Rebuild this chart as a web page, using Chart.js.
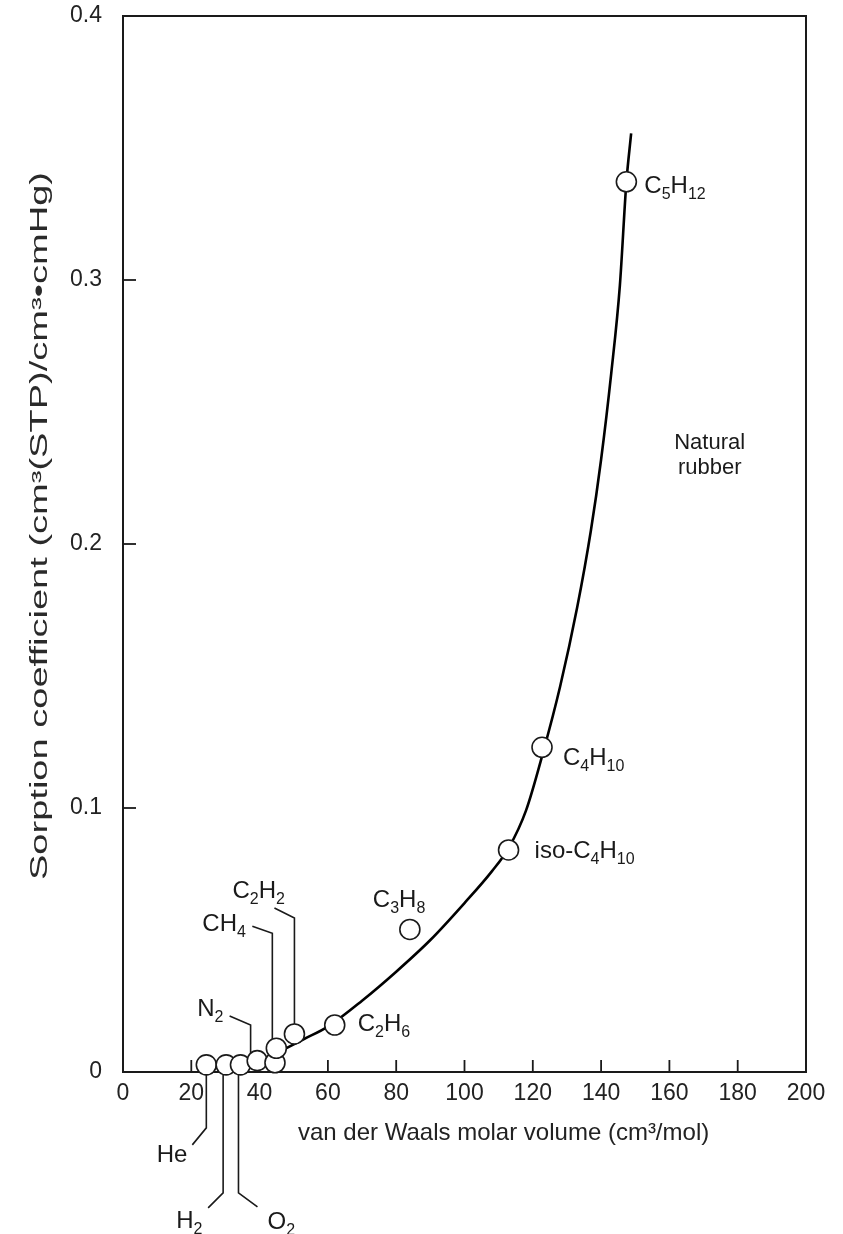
<!DOCTYPE html>
<html><head><meta charset="utf-8">
<script src="https://cdn.jsdelivr.net/npm/chart.js@4/dist/chart.umd.min.js"></script>
<style>html,body{margin:0;padding:0;background:#fff;}canvas{display:block;}</style>
</head><body>
<canvas id="c" width="843" height="1234"></canvas>
<script>
// ---------------- DATA ----------------
const gasLabels   = ['He','H_2','O_2','N_2','','CH_4','C_2H_2','C_2H_6','C_3H_8','iso-C_4H_{10}','C_4H_{10}','C_5H_{12}'];
const molarVolume = [24.4, 30.2, 34.4, 39.3, 44.5, 44.9, 50.2, 62.0, 84.0, 112.9, 122.7, 147.4];
const sorption    = [0.0027, 0.0027, 0.0027, 0.0043, 0.0035, 0.009, 0.0144, 0.0178, 0.054, 0.0841, 0.123, 0.3372];

const curveX = [41, 47, 53, 60, 70, 80, 90, 100, 108, 113, 118, 123, 128, 133, 137, 140, 143, 145.5, 147.4, 148.8];
const curveY = [0.0045, 0.0085, 0.0125, 0.0172, 0.027, 0.038, 0.050, 0.064, 0.076, 0.085, 0.099, 0.121, 0.146, 0.176, 0.205, 0.232, 0.265, 0.298, 0.337, 0.3555];

const xTickLabels = ['0','20','40','60','80','100','120','140','160','180','200'];
const yTickLabels = ['0','0.1','0.2','0.3','0.4'];
const xTitle = 'van der Waals molar volume (cm\u00B3/mol)';
const yTitle = 'Sorption coefficient (cm\u00B3(STP)/cm\u00B3\u2022cmHg)';
const noteLines = ['Natural', 'rubber'];

// ---------------- LAYOUT / STYLE ----------------
const FONT = '"Liberation Sans", Arial, Helvetica, sans-serif';
const INK = '#1a1a1a';
const TEXT = '#222';
const LABEL_SIZE = 24;
// label anchor [dx, dy(baseline), align] and leader polyline, in pixels relative to the marker
const annot = {
  'He':            {label:[-19, 97, 'right'],  path:[[0,10],[0,63],[-14,80]]},
  'H_2':           {label:[-50, 163, 'left'],  path:[[-3,10],[-3,128],[-18,143]]},
  'O_2':           {label:[27, 164, 'left'],   path:[[-2,10],[-2,128],[17,142]]},
  'N_2':           {label:[-60, -45, 'left'],  path:[[-6.6,-7.5],[-6.6,-35.6],[-27.6,-44.6]]},
  'CH_4':          {label:[-74, -117, 'left'], path:[[-4,-9.2],[-4,-115],[-24,-122]]},
  'C_2H_2':        {label:[-62, -136, 'left'], path:[[0,-10],[0,-116],[-20,-126]]},
  'C_2H_6':        {label:[23, 6, 'left']},
  'C_3H_8':        {label:[-37, -22, 'left']},
  'iso-C_4H_{10}': {label:[26, 8, 'left']},
  'C_4H_{10}':     {label:[21, 18, 'left']},
  'C_5H_{12}':     {label:[18, 11, 'left']}
};
const notePos = {x:171.8, y:0.236, lineGap:25};
const xTitleBox = {left:298, baseline:1140, size:24};
const yTitleBox = {cx:41, top:172, bottom:880, size:23};

function drawRich(ctx, text, x, y, align, size) {
  const segs = []; const re = /_\{([^}]*)\}|_(\d)/g; let last = 0, m;
  while ((m = re.exec(text))) {
    if (m.index > last) segs.push({t:text.slice(last, m.index), sub:false});
    segs.push({t:m[1] || m[2], sub:true}); last = re.lastIndex;
  }
  if (last < text.length) segs.push({t:text.slice(last), sub:false});
  const subSize = Math.round(size * 0.66);
  let w = 0;
  for (const s of segs) { ctx.font = (s.sub ? subSize : size) + 'px ' + FONT; s.w = ctx.measureText(s.t).width; w += s.w; }
  let cx = align === 'right' ? x - w : (align === 'center' ? x - w / 2 : x);
  ctx.textAlign = 'left'; ctx.textBaseline = 'alphabetic';
  for (const s of segs) {
    ctx.font = (s.sub ? subSize : size) + 'px ' + FONT;
    ctx.fillText(s.t, cx, y + (s.sub ? size * 0.25 : 0));
    cx += s.w;
  }
}

const framePlugin = {
  id: 'frame',
  beforeDatasetsDraw(chart) {
    const {ctx, chartArea:a, scales:{x, y}} = chart;
    ctx.save();
    ctx.strokeStyle = INK; ctx.lineWidth = 2;
    ctx.strokeRect(a.left, a.top, a.right - a.left, a.bottom - a.top);
    ctx.lineWidth = 1.8;
    x.ticks.forEach(t => {
      if (t.value <= x.min || t.value >= x.max) return;
      const px = x.getPixelForValue(t.value);
      ctx.beginPath(); ctx.moveTo(px, a.bottom); ctx.lineTo(px, a.bottom - 12); ctx.stroke();
    });
    y.ticks.forEach(t => {
      if (t.value <= y.min || t.value >= y.max) return;
      const py = y.getPixelForValue(t.value);
      ctx.beginPath(); ctx.moveTo(a.left, py); ctx.lineTo(a.left + 13, py); ctx.stroke();
    });
    ctx.restore();
  }
};

const annotPlugin = {
  id: 'annot',
  afterDatasetsDraw(chart) {
    const {ctx, scales:{x, y}} = chart;
    ctx.save();
    ctx.fillStyle = INK; ctx.strokeStyle = INK; ctx.lineWidth = 1.6;
    gasLabels.forEach((name, i) => {
      const cfg = annot[name]; if (!cfg) return;
      const px = x.getPixelForValue(molarVolume[i]);
      const py = y.getPixelForValue(sorption[i]);
      if (cfg.path) {
        ctx.beginPath();
        cfg.path.forEach((p, k) => k ? ctx.lineTo(px + p[0], py + p[1]) : ctx.moveTo(px + p[0], py + p[1]));
        ctx.stroke();
      }
      drawRich(ctx, name, px + cfg.label[0], py + cfg.label[1], cfg.label[2], LABEL_SIZE);
    });
    const nx = x.getPixelForValue(notePos.x), ny = y.getPixelForValue(notePos.y);
    noteLines.forEach((t, k) => drawRich(ctx, t, nx, ny + k * notePos.lineGap, 'center', 22));

    // axis titles
    ctx.fillStyle = TEXT;
    ctx.font = xTitleBox.size + 'px ' + FONT;
    ctx.textAlign = 'left'; ctx.textBaseline = 'alphabetic';
    ctx.fillText(xTitle, xTitleBox.left, xTitleBox.baseline);

    ctx.save();
    ctx.fillStyle = '#2a2a2a';
    const len = yTitleBox.bottom - yTitleBox.top;
    ctx.translate(yTitleBox.cx, (yTitleBox.top + yTitleBox.bottom) / 2);
    ctx.rotate(-Math.PI / 2);
    ctx.font = yTitleBox.size + 'px ' + FONT;
    const w = ctx.measureText(yTitle).width;
    ctx.scale(len / w, 1);
    ctx.textAlign = 'center'; ctx.textBaseline = 'middle';
    ctx.fillText(yTitle, 0, 0);
    ctx.restore();
    ctx.restore();
  }
};

const tickFont = {size:23, family:FONT};
const hiddenGrid = {display:true, drawOnChartArea:false, drawTicks:true, color:'rgba(0,0,0,0)'};
new Chart(document.getElementById('c'), {
  type: 'scatter',
  data: {
    datasets: [
      { type:'scatter', data: molarVolume.map((v, i) => ({x:v, y:sorption[i]})),
        pointRadius:10, pointHoverRadius:10, pointBackgroundColor:'#fff', pointBorderColor:INK,
        pointBorderWidth:1.6, clip:false },
      { type:'line', data: curveX.map((v, i) => ({x:v, y:curveY[i]})),
        borderColor:'#000', borderWidth:2.6, pointRadius:0, cubicInterpolationMode:'monotone',
        fill:false, clip:false }
    ]
  },
  options: {
    responsive:false, animation:false, events:[],
    layout:{padding:{left:0, top:16, right:37, bottom:0}},
    plugins:{legend:{display:false}, tooltip:{enabled:false}},
    scales:{
      x:{ type:'linear', min:0, max:200, position:'bottom',
          afterFit(s){ s.height = 162; },
          grid:Object.assign({tickLength:8}, hiddenGrid), border:{display:false},
          ticks:{stepSize:20, autoSkip:false, maxRotation:0, padding:0, font:tickFont, color:TEXT,
                 callback:(v, i) => xTickLabels[i]},
          title:{display:false} },
      y:{ type:'linear', min:0, max:0.4, position:'left',
          afterFit(s){ s.width = 123; },
          grid:Object.assign({tickLength:21}, hiddenGrid), border:{display:false},
          ticks:{stepSize:0.1, autoSkip:false, padding:0, font:tickFont, color:TEXT,
                 callback:(v, i) => yTickLabels[i]},
          title:{display:false} }
    }
  },
  plugins:[framePlugin, annotPlugin]
});
</script>
</body></html>
